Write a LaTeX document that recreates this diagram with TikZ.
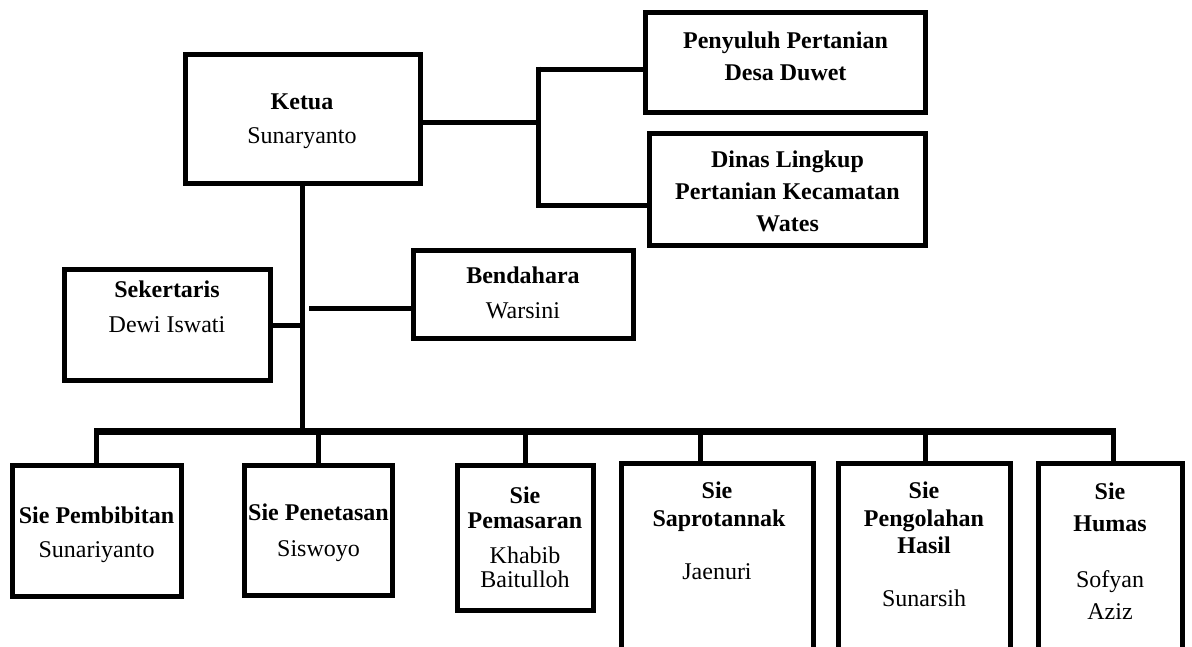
\documentclass[tikz,border=0pt]{standalone}
\usepackage{fontspec}
\setmainfont{Liberation Serif}
\newcommand{\orglabel}[5]{\node[lbl,#4] (#1) at (#2,#3) {#5};}
\begin{document}
\begin{tikzpicture}[x=1pt,y=-1pt,
  orgbox/.style={draw=black,line width=5pt,rectangle,inner sep=0pt,fill=none},
  conn/.style={draw=black,line width=5pt},
  busline/.style={draw=black,line width=7.5pt},
  lbl/.style={anchor=base,inner sep=0pt},
  bd/.style={font=\fontsize{24}{28}\selectfont\bfseries},
  rg/.style={font=\fontsize{24}{28}\selectfont}]
\useasboundingbox (0,0) rectangle (1192,646);
\clip (0,0) rectangle (1192,646);
\fill[white] (0,0) rectangle (1192,646);

% boxes
\node[orgbox,minimum width=235pt,minimum height=129pt] (ketua) at (302.5,118.5) {};
\node[orgbox,minimum width=280pt,minimum height=100pt] (penyuluh) at (785.5,62.5) {};
\node[orgbox,minimum width=276pt,minimum height=112pt] (dinas) at (787.5,189.5) {};
\node[orgbox,minimum width=206.5pt,minimum height=111pt] (sek) at (167.25,324.5) {};
\node[orgbox,minimum width=219.5pt,minimum height=87.5pt] (bend) at (523.25,294.25) {};
\node[orgbox,minimum width=168.5pt,minimum height=131pt] (pemb) at (96.75,530.5) {};
\node[orgbox,minimum width=148pt,minimum height=130pt] (pene) at (318.5,530.5) {};
\node[orgbox,minimum width=136.5pt,minimum height=144.5pt] (pema) at (525.25,537.75) {};
\node[orgbox,minimum width=192pt,minimum height=237pt] (sapro) at (717,581.5) {};
\node[orgbox,minimum width=171.5pt,minimum height=237pt] (peng) at (924.25,581.5) {};
\node[orgbox,minimum width=144pt,minimum height=237pt] (humas) at (1110,581.5) {};

% connector points
\coordinate (jtop) at (538,69);
\coordinate (jmid) at (538,122);
\coordinate (jbot) at (538,205);
\coordinate (tsek) at (302.5,325);
\coordinate (bstart) at (309,308);
\coordinate (busL) at (94,431.5);
\coordinate (busR) at (1116,431.5);
\coordinate (busM) at (302.5,431.5);
\coordinate (d1) at (96.5,428);
\coordinate (d2) at (318,428);
\coordinate (d3) at (525.5,428);
\coordinate (d4) at (700,428);
\coordinate (d5) at (925.5,428);
\coordinate (d6) at (1113.5,428);

% connectors
\draw[conn] (ketua.east |- jmid) -- (jmid);
\draw[conn] ([yshift=2.5pt]jtop) -- ([yshift=-2.5pt]jbot);
\draw[conn] (jtop) -- (penyuluh.west |- jtop);
\draw[conn] (jbot) -- (dinas.west |- jbot);
\draw[conn,line width=4.5pt] (ketua.south) -- (busM);
\draw[conn] (sek.east |- tsek) -- (tsek);
\draw[conn] (bstart) -- (bend.west |- bstart);
\draw[busline] (busL) -- (busR);
\draw[conn] (d1) -- (d1 |- pemb.north);
\draw[conn] (d2) -- (d2 |- pene.north);
\draw[conn] (d3) -- (d3 |- pema.north);
\draw[conn] (d4) -- (d4 |- sapro.north);
\draw[conn] (d5) -- (d5 |- peng.north);
\draw[conn] (d6) -- (d6 |- humas.north);

% texts
\orglabel{k1}{302}{109}{bd}{Ketua}
\orglabel{k2}{302}{143}{rg}{Sunaryanto}
\orglabel{p1}{785.5}{48}{bd}{Penyuluh Pertanian}
\orglabel{p2}{785.5}{80}{bd}{Desa Duwet}
\orglabel{di1}{787.5}{167}{bd}{Dinas Lingkup}
\orglabel{di2}{787.5}{199}{bd}{Pertanian Kecamatan}
\orglabel{di3}{787.5}{231}{bd}{Wates}
\orglabel{s1}{167}{297}{bd}{Sekertaris}
\orglabel{s2}{167}{332}{rg}{Dewi Iswati}
\orglabel{b1}{523}{283}{bd}{Bendahara}
\orglabel{b2}{523}{318}{rg}{Warsini}
\orglabel{pb1}{96.5}{523}{bd}{Sie Pembibitan}
\orglabel{pb2}{96.5}{557}{rg}{Sunariyanto}
\orglabel{pn1}{318.5}{520.5}{bd}{Sie Penetasan}
\orglabel{pn2}{318.5}{556}{rg}{Siswoyo}
\orglabel{pm1}{525}{503}{bd}{Sie}
\orglabel{pm2}{525}{528}{bd}{Pemasaran}
\orglabel{pm3}{525}{563}{rg}{Khabib}
\orglabel{pm4}{525}{587}{rg}{Baitulloh}
\orglabel{sp1}{717}{498}{bd}{Sie}
\orglabel{sp2}{719}{526}{bd}{Saprotannak}
\orglabel{sp3}{717}{579}{rg}{Jaenuri}
\orglabel{pg1}{924}{498}{bd}{Sie}
\orglabel{pg2}{924}{526}{bd}{Pengolahan}
\orglabel{pg3}{924}{553}{bd}{Hasil}
\orglabel{pg4}{924}{606}{rg}{Sunarsih}
\orglabel{h1}{1110}{499}{bd}{Sie}
\orglabel{h2}{1110}{531}{bd}{Humas}
\orglabel{h3}{1110}{587}{rg}{Sofyan}
\orglabel{h4}{1110}{619}{rg}{Aziz}
\end{tikzpicture}
\end{document}
